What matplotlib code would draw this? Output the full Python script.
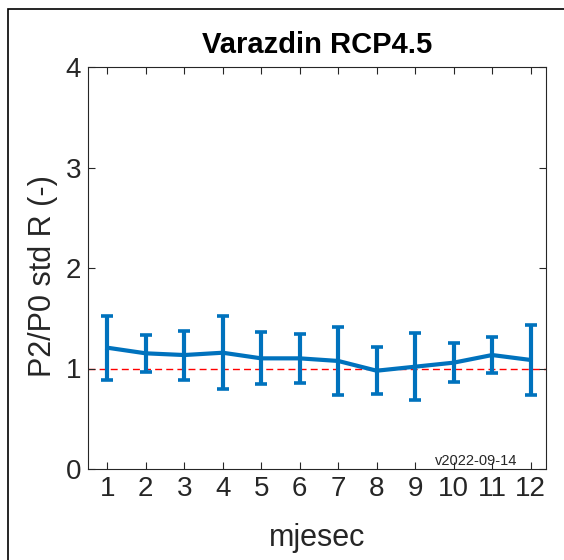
import matplotlib.pyplot as plt
from matplotlib.patches import Rectangle

plt.rcParams['font.family'] = ['Liberation Sans', 'DejaVu Sans']

months = [1, 2, 3, 4, 5, 6, 7, 8, 9, 10, 11, 12]
ratio_mean = [1.207, 1.151, 1.134, 1.157, 1.101, 1.101, 1.075, 0.978, 1.018, 1.058, 1.134, 1.085]
ratio_std = [0.317, 0.183, 0.244, 0.361, 0.260, 0.242, 0.337, 0.233, 0.332, 0.191, 0.183, 0.345]
version = "v2022-09-14"

blue = '#0072BD'
gray = '#262626'

fig = plt.figure(figsize=(5.64, 5.60), dpi=100)
ax = fig.add_axes([88/564, 1 - 469/560, 458/564, 402/560])

ax.axhline(1, color='#ff0000', ls=(0, (5, 3)), lw=1, zorder=1)
ax.errorbar(months, ratio_mean, yerr=ratio_std, color=blue, lw=3,
            elinewidth=3, capsize=4.5, capthick=2.6, zorder=2)

ax.set_xlim(0.5, 12.4)
ax.set_ylim(0, 4)
ax.set_xticks(months)
ax.set_yticks([0, 1, 2, 3, 4])
ax.tick_params(direction='in', length=5, width=0.8, colors=gray,
               labelsize=20, top=True, right=True, pad=5)
for s in ax.spines.values():
    s.set_color(gray)
    s.set_linewidth(0.8)

ax.set_title('Varazdin RCP4.5', fontsize=21, fontweight='bold', pad=10)
ax.set_xlabel('mjesec', fontsize=22, color=gray)
ax.set_ylabel('P2/P0 std R (-)', fontsize=22, color=gray)
ax.yaxis.set_label_coords(-0.066, 0.48)
ax.xaxis.set_label_coords(0.5, -0.135)

ax.text(0.937, 0.01, version, transform=ax.transAxes, ha='right',
        va='baseline', fontsize=10.5, color=gray)

fig.patches.append(Rectangle((8/564, -0.5), 2, 1.5 - 9/560, transform=fig.transFigure,
                             fill=False, ec='black', lw=1.2))

fig.savefig('out.png', dpi=100)
